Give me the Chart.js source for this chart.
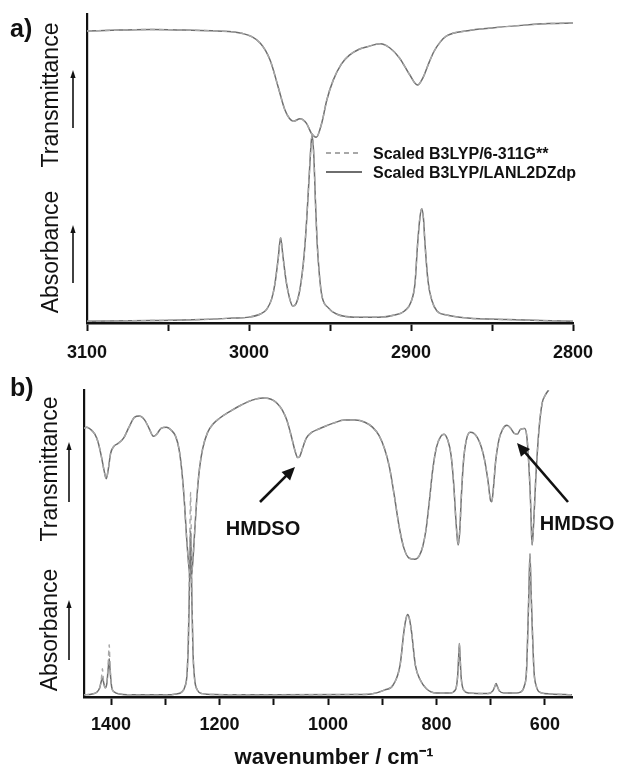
<!DOCTYPE html>
<html>
<head>
<meta charset="utf-8">
<script src="https://cdn.jsdelivr.net/npm/chart.js@4.4.1/dist/chart.umd.min.js"></script>
<style>
  html, body { margin: 0; padding: 0; background: #fff; }
  #wrap { position: relative; width: 620px; height: 767px; }
  #chartA { position: absolute; left: 0; top: 0; }
  #chartB { position: absolute; left: 0; top: 370px; }
</style>
</head>
<body>
<div id="wrap">
  <canvas id="chartA" width="620" height="370"></canvas>
  <canvas id="chartB" width="620" height="397"></canvas>
</div>
<script>
// ---- panel a) data, 3100-2800 cm-1 (y in arbitrary units 0-100) ----
var transA_wn = [3100, 3080, 3060, 3040, 3020, 3004, 2993, 2987, 2982, 2978, 2975, 2972.5, 2968.5, 2964.5, 2961.5, 2958.5, 2955, 2952, 2948, 2943, 2938, 2932, 2927, 2919, 2913, 2907, 2901, 2896, 2892.5, 2889, 2886, 2882, 2878, 2865, 2850, 2830, 2815, 2800];
var transA = [94.5, 94.8, 95.0, 94.8, 94.5, 93.7, 90.5, 85.1, 76.4, 69.2, 66.2, 65.3, 66.1, 64.6, 61.4, 60.1, 64.9, 72.1, 78.6, 83.8, 86.7, 88.6, 89.4, 90.4, 89.0, 85.7, 80.5, 77.0, 79.5, 84.1, 87.7, 90.9, 92.9, 94.6, 95.5, 96.4, 96.9, 97.1];

var absA_wn = [3100, 3060, 3030, 3010, 3000, 2993, 2989, 2986, 2984, 2982, 2980.5, 2979, 2977, 2975, 2973, 2971, 2969, 2967.5, 2966, 2964.5, 2963, 2961.5, 2961, 2960, 2959, 2958, 2956.5, 2955, 2951, 2946, 2935, 2920, 2910, 2904, 2900, 2897.5, 2896, 2894.5, 2893.4, 2892.3, 2891.4, 2889.5, 2887, 2884, 2878, 2865, 2840, 2820, 2800];
var absA = [0.6, 0.8, 1.1, 1.6, 1.9, 2.9, 4.5, 7.8, 12.7, 20.8, 27.6, 21.4, 13.3, 8.1, 5.5, 6.2, 9.7, 14.6, 21.8, 32.5, 46.1, 59.1, 60.7, 54.2, 39.6, 26.6, 15.3, 8.8, 4.9, 2.9, 1.9, 1.9, 2.6, 3.9, 6.8, 13.0, 25.0, 34.1, 37.0, 33.8, 26.0, 13.6, 7.1, 3.9, 2.6, 1.6, 1.1, 0.8, 0.6];

var ticksA = [3100, 3050, 3000, 2950, 2900, 2850, 2800];
var labelsA = [3100, 3000, 2900, 2800];

// ---- panel b) data, 1450-550 cm-1 ----
var transB_wn = [1450, 1445, 1438, 1430, 1424, 1418, 1413, 1409, 1405, 1401, 1395, 1387, 1377, 1367, 1357, 1348, 1338, 1330, 1322, 1316, 1308, 1298, 1289, 1281, 1275, 1270, 1265, 1261, 1257, 1253.5, 1250, 1246, 1242, 1237, 1231, 1222, 1212, 1200, 1180, 1160, 1140, 1120, 1105, 1094, 1084, 1076, 1068, 1061, 1056, 1052, 1047, 1040, 1030, 1018, 1005, 990, 970, 950, 932, 918, 906, 896, 887, 878, 869, 860, 850, 840, 832, 825, 819, 813, 807, 800, 792, 786, 779, 773, 768, 764, 760, 757, 754, 750, 745, 738, 731, 724, 717, 711, 705, 700, 698, 695, 691, 685, 678, 670, 663, 657, 651, 645, 637, 633, 629.5, 626.5, 624.5, 623.5, 620.5, 617, 611, 605, 599, 593];
var transB = [87.5, 87.9, 87.2, 85.6, 83.0, 78.4, 73.8, 71.1, 74.4, 79.3, 81.6, 82.6, 84.3, 87.9, 91.1, 91.5, 90.2, 87.5, 84.9, 85.6, 87.5, 87.9, 86.9, 84.9, 81.0, 74.4, 63.9, 52.5, 43.3, 38.7, 42.6, 53.4, 64.6, 74.4, 81.0, 86.2, 88.9, 90.8, 93.1, 95.1, 96.7, 97.4, 97.0, 95.7, 93.4, 90.2, 85.2, 80.3, 78.0, 78.4, 81.0, 84.3, 86.2, 87.2, 88.2, 89.2, 90.2, 90.2, 89.5, 87.9, 85.2, 81.0, 75.1, 65.9, 55.7, 48.5, 45.2, 44.9, 45.9, 49.2, 54.8, 63.9, 73.8, 81.3, 84.9, 85.6, 83.6, 78.7, 68.9, 57.4, 49.5, 54.1, 65.6, 77.0, 83.6, 86.2, 85.9, 84.3, 81.3, 77.0, 70.5, 63.9, 63.6, 67.9, 76.4, 83.6, 87.2, 88.5, 87.5, 85.9, 85.6, 87.2, 87.5, 84.3, 75.4, 63.9, 52.5, 49.5, 57.4, 70.5, 86.9, 95.7, 98.4, 100];

var absB_wn = [1450, 1435, 1426, 1421, 1418, 1416, 1414, 1411, 1408, 1405.5, 1403.5, 1402, 1399, 1394, 1385, 1350, 1300, 1280, 1270, 1264, 1260, 1257.5, 1255.5, 1254, 1253.5, 1252.5, 1251, 1249, 1246, 1241, 1232, 1210, 1100, 950, 920, 895, 880, 867, 860, 856, 853, 850, 846, 839, 830, 818, 800, 775, 765, 761, 759, 757.7, 756.4, 754.5, 750, 740, 705, 696, 692, 690, 688, 684, 675, 655, 645, 638, 634, 631.5, 629.5, 627.5, 625.5, 623, 620, 616, 610, 590, 550];
var absB_lanl = [0.7, 1.0, 1.6, 3.0, 5.2, 6.2, 4.9, 3.0, 4.3, 8.9, 12.5, 8.9, 3.3, 1.6, 1.0, 0.7, 0.7, 1.0, 1.6, 3.3, 7.5, 18.0, 36.1, 50.8, 54.1, 47.5, 31.1, 14.8, 5.9, 2.3, 1.1, 0.8, 0.7, 0.8, 1.0, 2.3, 3.9, 10.5, 21.3, 25.6, 26.9, 25.6, 21.3, 10.5, 5.6, 2.6, 1.3, 1.3, 2.3, 6.6, 13.1, 17.4, 13.1, 6.6, 2.3, 1.3, 1.1, 2.0, 3.6, 4.4, 3.6, 2.0, 1.3, 1.3, 1.6, 3.6, 8.2, 21.3, 34.4, 46.6, 34.4, 21.3, 8.2, 3.6, 1.6, 1.0, 0.7];
var absB_631 = [0.7, 1.0, 1.6, 3.0, 5.9, 9.2, 5.2, 3.0, 4.3, 10.8, 17.0, 10.5, 3.3, 1.6, 1.0, 0.7, 0.7, 1.0, 1.6, 3.3, 7.5, 21.3, 44.3, 62.3, 66.6, 57.4, 34.4, 15.4, 5.9, 2.3, 1.1, 0.8, 0.7, 0.8, 1.0, 2.3, 3.9, 10.5, 21.3, 25.6, 26.9, 25.6, 21.3, 10.5, 5.6, 2.6, 1.3, 1.3, 2.3, 6.6, 13.1, 17.4, 13.1, 6.6, 2.3, 1.3, 1.1, 2.0, 3.6, 4.4, 3.6, 2.0, 1.3, 1.3, 1.6, 3.6, 8.2, 21.3, 34.4, 46.6, 34.4, 21.3, 8.2, 3.6, 1.6, 1.0, 0.7];

var ticksB = [1400, 1300, 1200, 1100, 1000, 900, 800, 700, 600];
var labelsB = [1400, 1200, 1000, 800, 600];

var seriesNames = ['Scaled B3LYP/6-311G**', 'Scaled B3LYP/LANL2DZdp'];

var FONT = '"Liberation Sans", Arial, Helvetica, sans-serif';
var DASH_COLOR = '#a8a8a8';
var SOLID_COLOR = '#6e6e6e';

function pts(xs, ys) {
  return xs.map(function (x, i) { return { x: x, y: ys[i] }; });
}

function line(label, data, dashed) {
  return {
    label: label,
    data: data,
    borderColor: dashed ? DASH_COLOR : SOLID_COLOR,
    borderWidth: dashed ? 1.4 : 1.5,
    borderDash: dashed ? [5, 4] : [],
    pointRadius: 0,
    fill: false,
    cubicInterpolationMode: 'monotone'
  };
}

function arrow(ctx, x1, y1, x2, y2, w, head, hw) {
  var a = Math.atan2(y2 - y1, x2 - x1);
  var c = Math.cos(a), s = Math.sin(a);
  ctx.lineWidth = w;
  ctx.beginPath();
  ctx.moveTo(x1, y1);
  ctx.lineTo(x2 - c * head * 0.8, y2 - s * head * 0.8);
  ctx.stroke();
  ctx.beginPath();
  ctx.moveTo(x2, y2);
  ctx.lineTo(x2 - head * c + hw * s, y2 - head * s - hw * c);
  ctx.lineTo(x2 - head * c - hw * s, y2 - head * s + hw * c);
  ctx.closePath();
  ctx.fill();
}

// letters, axis captions, arrows, notes and the key
var panelText = {
  id: 'panelText',
  afterDraw: function (chart, args, o) {
    var ctx = chart.ctx;
    ctx.save();
    ctx.fillStyle = '#111';
    ctx.strokeStyle = '#111';
    ctx.textBaseline = 'alphabetic';
    ctx.textAlign = 'left';
    ctx.font = 'bold 25px ' + FONT;
    ctx.fillText(o.letter.text, o.letter.x, o.letter.y);

    (o.yLabels || []).forEach(function (l) {
      ctx.save();
      ctx.translate(l.x, l.y);
      ctx.rotate(-Math.PI / 2);
      ctx.font = '23px ' + FONT;
      ctx.textAlign = 'center';
      ctx.textBaseline = 'middle';
      ctx.fillText(l.text, 0, 0);
      ctx.restore();
      arrow(ctx, l.ax, l.ay1, l.ax, l.ay2, 1.6, 8, 2.6);
    });

    (o.notes || []).forEach(function (n) {
      ctx.font = n.font;
      ctx.textAlign = 'center';
      ctx.fillText(n.text, n.x, n.y);
      if (n.arrow) arrow(ctx, n.arrow[0], n.arrow[1], n.arrow[2], n.arrow[3], 2.6, 13, 6);
    });

    if (o.key) {
      var k = o.key;
      chart.data.datasets.slice(0, 2).forEach(function (ds, i) {
        var y = k.y + i * k.gap;
        ctx.save();
        ctx.strokeStyle = ds.borderColor;
        ctx.lineWidth = 2;
        ctx.setLineDash(ds.borderDash);
        ctx.beginPath();
        ctx.moveTo(k.x1, y);
        ctx.lineTo(k.x2, y);
        ctx.stroke();
        ctx.restore();
        ctx.font = 'bold 16px ' + FONT;
        ctx.textAlign = 'left';
        ctx.fillText(ds.label, k.tx, y + 6);
      });
    }
    ctx.restore();
  }
};

function xScale(min, max, ticks, labels, height, pad) {
  return {
    type: 'linear',
    min: min,
    max: max,
    reverse: true,
    afterBuildTicks: function (axis) {
      axis.ticks = ticks.map(function (v) { return { value: v }; });
    },
    afterFit: function (scale) { scale.height = height; },
    grid: { display: true, drawOnChartArea: false, drawTicks: true, tickLength: 8, tickWidth: 2, tickColor: '#111' },
    border: { display: true, width: 2.6, color: '#111' },
    ticks: {
      padding: pad,
      color: '#111',
      maxRotation: 0,
      autoSkip: false,
      font: { family: FONT, size: 18, weight: 'bold' },
      callback: function (v) { return labels.indexOf(v) >= 0 ? String(v) : ''; }
    }
  };
}

var yScale = {
  type: 'linear',
  min: 0,
  max: 100,
  afterFit: function (scale) { scale.width = 0; },
  grid: { display: false },
  border: { display: true, width: 2.2, color: '#111' },
  ticks: { display: false }
};

new Chart(document.getElementById('chartA'), {
  type: 'line',
  data: {
    datasets: [
      line(seriesNames[0], pts(transA_wn, transA), true),
      line(seriesNames[1], pts(transA_wn, transA), false),
      line(seriesNames[0], pts(absA_wn, absA), true),
      line(seriesNames[1], pts(absA_wn, absA), false)
    ]
  },
  options: {
    responsive: false,
    animation: false,
    layout: { padding: { left: 87, right: 47, top: 14, bottom: 0 } },
    scales: { x: xScale(2800, 3100, ticksA, labelsA, 47, 11), y: yScale },
    plugins: {
      legend: { display: false },
      tooltip: { enabled: false },
      panelText: {
        letter: { text: 'a)', x: 10, y: 37 },
        yLabels: [
          { text: 'Transmittance', x: 52, y: 95, ax: 73, ay1: 128, ay2: 70 },
          { text: 'Absorbance', x: 52, y: 252, ax: 73, ay1: 283, ay2: 225 }
        ],
        key: { x1: 326, x2: 362, tx: 373, y: 153, gap: 19 }
      }
    }
  },
  plugins: [panelText]
});

new Chart(document.getElementById('chartB'), {
  type: 'line',
  data: {
    datasets: [
      line(seriesNames[0], pts(transB_wn, transB), true),
      line(seriesNames[1], pts(transB_wn, transB), false),
      line(seriesNames[0], pts(absB_wn, absB_631), true),
      line(seriesNames[1], pts(absB_wn, absB_lanl), false)
    ]
  },
  options: {
    responsive: false,
    animation: false,
    layout: { padding: { left: 84, right: 48, top: 20, bottom: 0 } },
    scales: { x: xScale(550, 1450, ticksB, labelsB, 70, 9), y: yScale },
    plugins: {
      legend: { display: false },
      tooltip: { enabled: false },
      panelText: {
        letter: { text: 'b)', x: 10, y: 26 },
        yLabels: [
          { text: 'Transmittance', x: 51, y: 99, ax: 69, ay1: 132, ay2: 72 },
          { text: 'Absorbance', x: 51, y: 260, ax: 69, ay1: 290, ay2: 230 }
        ],
        notes: [
          { text: 'HMDSO', x: 263, y: 165, font: 'bold 20px ' + FONT, arrow: [260, 132, 295, 97] },
          { text: 'HMDSO', x: 577, y: 160, font: 'bold 20px ' + FONT, arrow: [568, 132, 517, 73] },
          { text: 'wavenumber / cm\u207B\u00B9', x: 334, y: 394, font: 'bold 22px ' + FONT }
        ]
      }
    }
  },
  plugins: [panelText]
});
</script>
</body>
</html>
